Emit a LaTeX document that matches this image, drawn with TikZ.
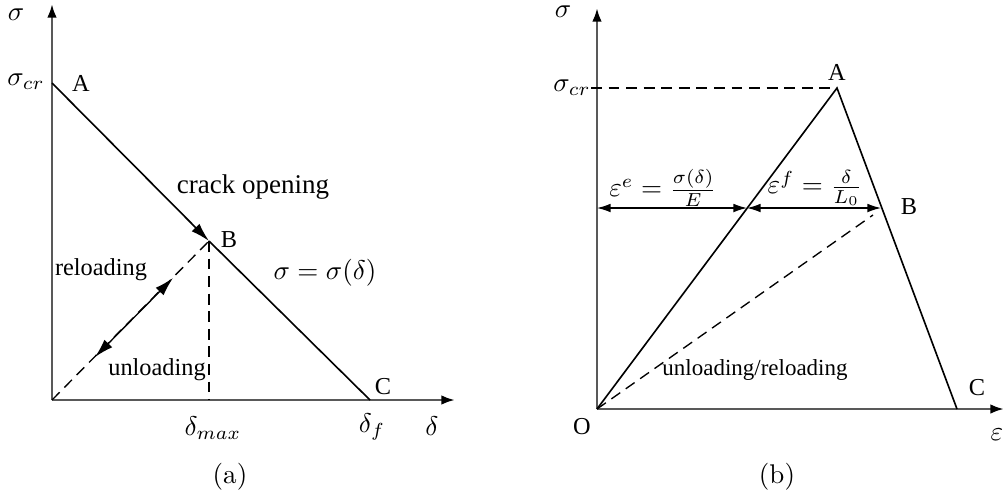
\documentclass[tikz,border=0pt]{standalone}
\usepackage{amsmath}
\usepackage{fontspec}
\usetikzlibrary{arrows.meta}
\newfontfamily\tms{Liberation Serif}

\tikzset{
  axis/.style={draw=black!65, line width=0.9pt, -{Latex[length=5pt,width=3.5pt,color=black]}},
  curve/.style={line width=0.6pt},
  guide/.style={line width=0.5pt, dash pattern=on 4pt off 2.5pt},
  tip/.style={-{Latex[length=7pt,width=4pt]}},
  twin/.style={line width=0.5pt, {Latex[length=7pt,width=4pt]}-{Latex[length=7pt,width=4pt]}},
  dim/.style={line width=0.5pt, {Latex[length=5pt,width=3.2pt]}-{Latex[length=5pt,width=3.2pt]}},
  pt/.style={font=\tms\fontsize{9}{10}\selectfont, inner sep=1pt},
  txt/.style={font=\tms\fontsize{9}{10}\selectfont, inner sep=1pt},
}

\begin{document}
\begin{tikzpicture}[x=0.013cm, y=-0.013cm]
\useasboundingbox (0,0) rectangle (1005,497);

% left
\coordinate (Oa) at (52,400);
\coordinate (A) at (52,83);
\coordinate (B) at (209,241);
\coordinate (C) at (370,400);
\coordinate (Bx) at (209,400);
\coordinate (r1) at (95,357);
\coordinate (r2) at (173,278);

% axes
\draw[axis] (Oa) -- (52,4);
\draw[axis] (Oa) -- (455,400);

% softening branch
\draw[curve, tip] (A) -- (B);
\draw[curve] (B) -- (C);

% unloading / reloading
\draw[guide] (Oa) -- (B);
\draw[guide] (B) -- (Bx);
\draw[twin] (r1) -- (r2);

\node (sa) at (16,15) {$\sigma$};
\node (scra) at (26,82) {$\sigma_{cr}$};
\node[pt] (la) at (81,83) {A};
\node[pt] (lb) at (229,240) {B};
\node[pt] (lc) at (383,387) {C};
\node[font=\tms\fontsize{10}{12}\selectfont] (crack) at (253,187) {crack opening};
\node (law) at (325,273) {$\sigma=\sigma(\delta)$};
\node[txt] (rel) at (101,270) {reloading};
\node[txt] (unl) at (157,370) {unloading};
\node (dmax) at (213,428) {$\delta_{max}$};
\node (df) at (372,427) {$\delta_f$};
\node (dl) at (432,426) {$\delta$};
\node (capa) at (230,477) {(a)};

% right
\coordinate (Ob) at (597,409);
\coordinate (Ab) at (837,88);
\coordinate (Bb) at (881,208);
\coordinate (Cb) at (957,409);
\coordinate (Sb) at (591,88);
\coordinate (Yb) at (597,208);
\coordinate (Mb) at (747,208);
\coordinate (Db) at (873,215);

% axes
\draw[axis] (Ob) -- (597,8);
\draw[axis] (Ob) -- (1004,409);

\draw[curve] (Ob) -- (Ab) -- (Cb);
\draw[guide] (Sb) -- (Ab);
\draw[guide] (Ob) -- (Db);
\draw[dim] (Yb) -- (Mb);
\draw[dim] (Mb) -- (Bb);

\node (sb) at (563,12) {$\sigma$};
\node (scrb) at (572,88) {$\sigma_{cr}$};
\node[pt] (lab) at (837,72) {A};
\node[pt] (lbb) at (909,207) {B};
\node[pt] (lcb) at (977,388) {C};
\node[pt] (lob) at (582,427) {O};
\node (eel) at (663,188) {$\varepsilon^e=\frac{\sigma(\delta)}{E}$};
\node (efl) at (815,188) {$\varepsilon^f=\frac{\delta}{L_0}$};
\node[txt, font=\tms\fontsize{8.5}{10}\selectfont] (ur) at (755,370) {unloading/reloading};
\node (eps) at (997,435) {$\varepsilon$};
\node (capb) at (777,477) {(b)};

\end{tikzpicture}
\end{document}
